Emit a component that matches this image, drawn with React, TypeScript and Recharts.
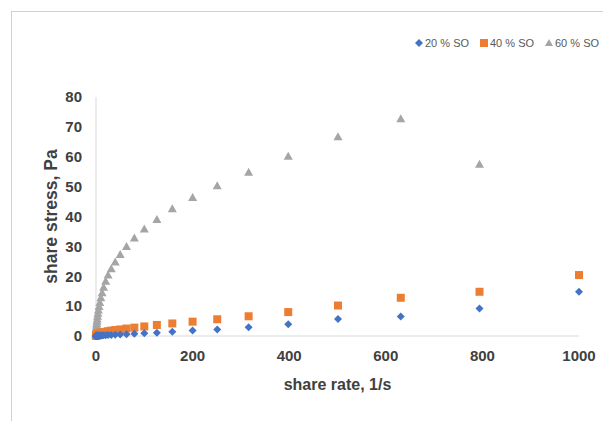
import { ScatterChart, Scatter, XAxis, YAxis } from 'recharts';

// shear rate steps, 1/s (log spaced, 10 per decade)
const rates = [
  0.1, 0.126, 0.158, 0.2, 0.251, 0.316, 0.398, 0.501, 0.631, 0.794,
  1, 1.26, 1.58, 2, 2.51, 3.16, 3.98, 5.01, 6.31, 7.94,
  10, 12.6, 15.8, 20, 25.1, 31.6, 39.8, 50.1, 63.1, 79.4,
  100, 126, 158, 200, 251, 316, 398, 501, 631, 794, 1000,
];

// shear stress, Pa
const so20 = [
  0.02, 0.02, 0.025, 0.03, 0.03, 0.035, 0.04, 0.045, 0.05, 0.055,
  0.06, 0.07, 0.08, 0.09, 0.1, 0.11, 0.12, 0.13, 0.14, 0.15,
  0.17, 0.19, 0.21, 0.25, 0.3, 0.35, 0.42, 0.5, 0.6, 0.75,
  0.9, 1.1, 1.4, 1.8, 2.2, 2.9, 3.9, 5.7, 6.5, 9.2, 14.8,
];
const so40 = [
  0.1, 0.12, 0.14, 0.16, 0.18, 0.2, 0.23, 0.26, 0.29, 0.32,
  0.35, 0.4, 0.45, 0.5, 0.55, 0.6, 0.7, 0.8, 0.9, 1.0,
  1.1, 1.2, 1.3, 1.4, 1.6, 1.8, 2.0, 2.2, 2.5, 2.8,
  3.2, 3.7, 4.2, 4.8, 5.6, 6.6, 8.0, 10.2, 12.8, 14.8, 20.4,
];
const so60: (number | null)[] = [
  0.3, 0.4, 0.5, 0.7, 0.9, 1.1, 1.4, 1.7, 2.1, 2.5,
  3.0, 3.6, 4.2, 4.9, 5.7, 6.6, 7.6, 8.7, 9.9, 11.2,
  12.8, 14.5, 16.3, 18.3, 20.4, 22.5, 24.8, 27.3, 30.0, 32.8,
  35.8, 39.0, 42.6, 46.4, 50.3, 54.8, 60.2, 66.7, 72.7, 57.5, null,
];

const xTicks = [0, 200, 400, 600, 800, 1000];
const yTicks = [0, 10, 20, 30, 40, 50, 60, 70, 80];

const BLUE = '#4472C4';
const ORANGE = '#ED7D31';
const GRAY = '#A5A5A5';
const FONT = 'Liberation Sans, Arial, sans-serif';

const toPoints = (vals: (number | null)[]) =>
  rates
    .map((x, i) => ({ x, y: vals[i] }))
    .filter((p) => p.y !== null);

const Diamond = (p: any) => (
  <path d={`M${p.cx},${p.cy - 4}L${p.cx + 4},${p.cy}L${p.cx},${p.cy + 4}L${p.cx - 4},${p.cy}Z`} fill={BLUE} />
);
const Square = (p: any) => <rect x={p.cx - 4} y={p.cy - 4} width={8} height={8} fill={ORANGE} />;
const Triangle = (p: any) => (
  <path d={`M${p.cx},${p.cy - 4.5}L${p.cx + 4.5},${p.cy + 3.5}L${p.cx - 4.5},${p.cy + 3.5}Z`} fill={GRAY} />
);

const tickStyle = { fontSize: 15, fontWeight: 700, fill: '#404040', fontFamily: FONT };
const legendText: React.CSSProperties = {
  position: 'absolute',
  top: 36,
  fontSize: 11,
  lineHeight: '14px',
  color: '#595959',
  fontFamily: FONT,
  whiteSpace: 'nowrap',
};

export default function App() {
  return (
    <div style={{ position: 'absolute', left: 0, top: 0, width: 603, height: 421, background: '#fff', overflow: 'hidden' }}>
      <div
        style={{
          position: 'absolute',
          left: 11,
          top: 11,
          width: 600,
          height: 420,
          borderTop: '1px solid #d0d0d0',
          borderLeft: '1px solid #d0d0d0',
        }}
      />
      <svg width={8} height={8} style={{ position: 'absolute', left: 415, top: 39 }}>
        <path d="M4,0L8,4L4,8L0,4Z" fill={BLUE} />
      </svg>
      <span style={{ ...legendText, left: 425 }}>20 % SO</span>
      <svg width={8} height={8} style={{ position: 'absolute', left: 480, top: 39 }}>
        <rect width={8} height={8} fill={ORANGE} />
      </svg>
      <span style={{ ...legendText, left: 490 }}>40 % SO</span>
      <svg width={8} height={8} style={{ position: 'absolute', left: 545, top: 39 }}>
        <path d="M4,0L8,7L0,7Z" fill={GRAY} />
      </svg>
      <span style={{ ...legendText, left: 555 }}>60 % SO</span>
      <div style={{ position: 'absolute', left: 0, top: 0 }}>
        <ScatterChart width={603} height={421} margin={{ top: 97, right: 24, bottom: 25, left: 26 }}>
          <XAxis
            type="number"
            dataKey="x"
            domain={[0, 1000]}
            ticks={xTicks}
            tickLine={false}
            axisLine={{ stroke: '#d9d9d9' }}
            tick={tickStyle}
            tickMargin={8}
            height={60}
            label={{
              value: 'share rate, 1/s',
              position: 'center',
              dy: 18,
              style: { fontSize: 16, fontWeight: 700, fill: '#404040', fontFamily: FONT },
            }}
          />
          <YAxis
            type="number"
            dataKey="y"
            domain={[0, 80]}
            ticks={yTicks}
            tickLine={false}
            axisLine={{ stroke: '#d9d9d9' }}
            tick={tickStyle}
            tickMargin={8}
            width={70}
            label={{
              value: 'share stress, Pa',
              angle: -90,
              position: 'center',
              dx: -10,
              style: { fontSize: 17.5, fontWeight: 700, fill: '#404040', fontFamily: FONT, textAnchor: 'middle' },
            }}
          />
          <Scatter name="60 % SO" data={toPoints(so60)} shape={Triangle} isAnimationActive={false} />
          <Scatter name="40 % SO" data={toPoints(so40)} shape={Square} isAnimationActive={false} />
          <Scatter name="20 % SO" data={toPoints(so20)} shape={Diamond} isAnimationActive={false} />
        </ScatterChart>
      </div>
    </div>
  );
}
